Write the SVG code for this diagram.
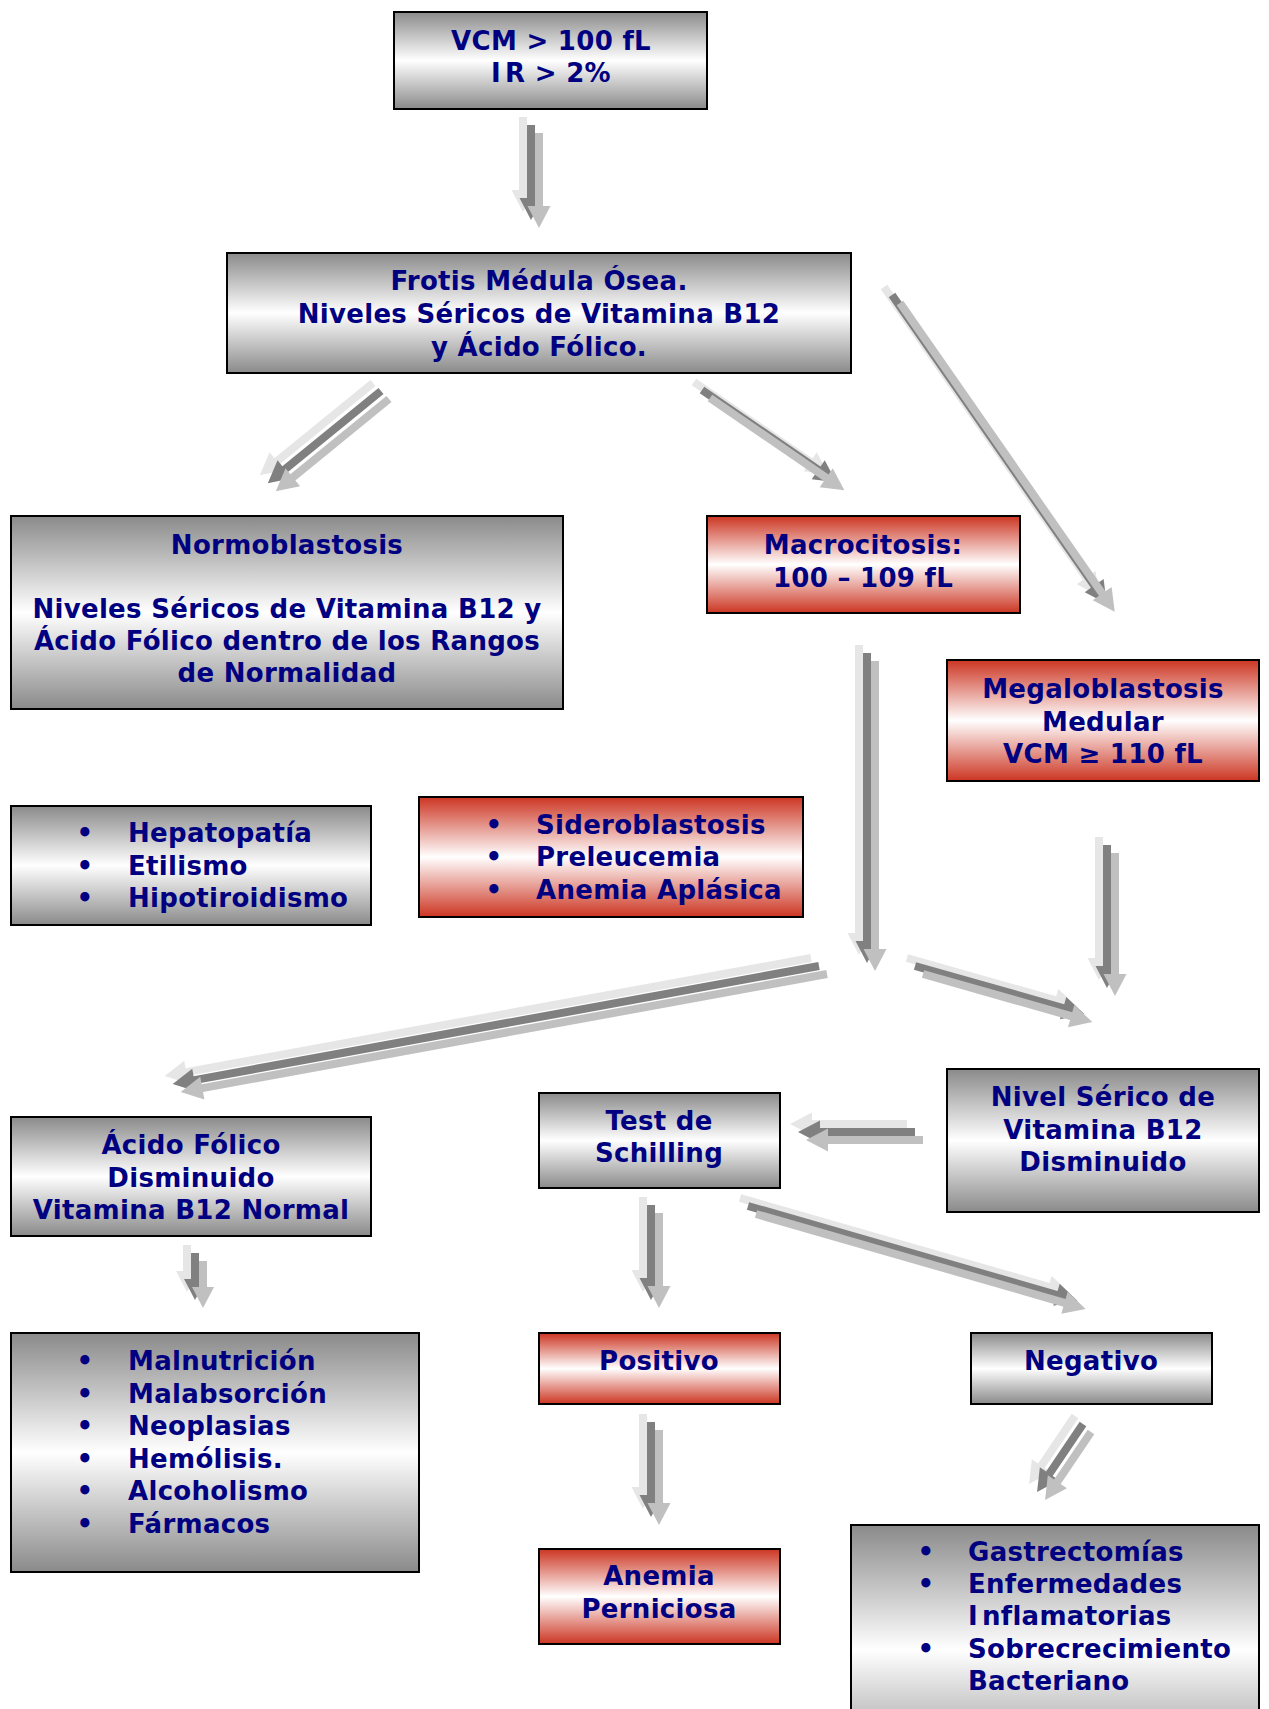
<svg xmlns="http://www.w3.org/2000/svg" xmlns:xlink="http://www.w3.org/1999/xlink" width="1269" height="1709" viewBox="0 0 1269 1709">
<defs>
<linearGradient id="gg" x1="0" y1="0" x2="0" y2="1">
<stop offset="0" stop-color="#8a8a8a"/>
<stop offset="0.5" stop-color="#ffffff"/>
<stop offset="1" stop-color="#8a8a8a"/>
</linearGradient>
<linearGradient id="rg" x1="0" y1="0" x2="0" y2="1">
<stop offset="0" stop-color="#cc3522"/>
<stop offset="0.5" stop-color="#ffffff"/>
<stop offset="1" stop-color="#cc3522"/>
</linearGradient>
<path id="p1" transform="translate(531,125) rotate(90)" d="M0,-4H73V-11.5L95,0L73,11.5V4H0Z"/>
<path id="p2" transform="translate(381,391) rotate(140.85)" d="M0,-4H124V-11.5L146,0L124,11.5V4H0Z"/>
<path id="p3" transform="translate(702,390) rotate(34.47)" d="M0,-4H141V-11.5L163,0L141,11.5V4H0Z"/>
<path id="p4" transform="translate(892,295) rotate(55.17)" d="M0,-4H354V-11.5L376,0L354,11.5V4H0Z"/>
<path id="p5" transform="translate(867,653) rotate(90)" d="M0,-4H288V-11.5L310,0L288,11.5V4H0Z"/>
<path id="p6" transform="translate(819,966) rotate(169.65)" d="M0,-4H635V-11.5L657,0L635,11.5V4H0Z"/>
<path id="p7" transform="translate(915,966) rotate(15.86)" d="M0,-4H154V-11.5L176,0L154,11.5V4H0Z"/>
<path id="p8" transform="translate(1107,845) rotate(90)" d="M0,-4H121V-11.5L143,0L121,11.5V4H0Z"/>
<path id="p9" transform="translate(915,1132) rotate(180)" d="M0,-4H95V-11.5L117,0L95,11.5V4H0Z"/>
<path id="p10" transform="translate(651,1205) rotate(90)" d="M0,-4H73V-11.5L95,0L73,11.5V4H0Z"/>
<path id="p11" transform="translate(748,1206) rotate(16.06)" d="M0,-4H321V-11.5L343,0L321,11.5V4H0Z"/>
<path id="p12" transform="translate(195,1253) rotate(90)" d="M0,-4H26V-11L47,0L26,11V4H0Z"/>
<path id="p13" transform="translate(651,1422) rotate(90)" d="M0,-4H73V-11.5L95,0L73,11.5V4H0Z"/>
<path id="p14" transform="translate(1083,1424) rotate(124.08)" d="M0,-4H60V-11.5L82,0L60,11.5V4H0Z"/>
</defs>
<style>
.g { fill: url(#gg); stroke: #000; stroke-width: 2; }
.r { fill: url(#rg); stroke: #000; stroke-width: 2; }
text { font-family: "DejaVu Sans", Verdana, sans-serif; font-weight: bold; font-size: 26px; letter-spacing: 0.3px; fill: #000080; }
.c { text-anchor: middle; }
.lt { fill: #e6e6e6; }
.dk { fill: #808080; }
.md { fill: #c0c0c0; }
</style>
<rect width="1269" height="1709" fill="#ffffff"/>

<g id="connectors">
<g id="a1"><use xlink:href="#p1" class="lt" transform="translate(-8,-8)"/><use xlink:href="#p1" class="dk"/><use xlink:href="#p1" class="md" transform="translate(8,8)"/></g>
<g id="a2"><use xlink:href="#p2" class="lt" transform="translate(-8,-8)"/><use xlink:href="#p2" class="dk"/><use xlink:href="#p2" class="md" transform="translate(8,8)"/></g>
<g id="a3"><use xlink:href="#p3" class="lt" transform="translate(-8,-8)"/><use xlink:href="#p3" class="dk"/><use xlink:href="#p3" class="md" transform="translate(8,8)"/></g>
<g id="a4"><use xlink:href="#p4" class="lt" transform="translate(-8,-8)"/><use xlink:href="#p4" class="dk"/><use xlink:href="#p4" class="md" transform="translate(8,8)"/></g>
<g id="a5"><use xlink:href="#p5" class="lt" transform="translate(-8,-8)"/><use xlink:href="#p5" class="dk"/><use xlink:href="#p5" class="md" transform="translate(8,8)"/></g>
<g id="a6"><use xlink:href="#p6" class="lt" transform="translate(-8,-8)"/><use xlink:href="#p6" class="dk"/><use xlink:href="#p6" class="md" transform="translate(8,8)"/></g>
<g id="a7"><use xlink:href="#p7" class="lt" transform="translate(-8,-8)"/><use xlink:href="#p7" class="dk"/><use xlink:href="#p7" class="md" transform="translate(8,8)"/></g>
<g id="a8"><use xlink:href="#p8" class="lt" transform="translate(-8,-8)"/><use xlink:href="#p8" class="dk"/><use xlink:href="#p8" class="md" transform="translate(8,8)"/></g>
<g id="a9"><use xlink:href="#p9" class="lt" transform="translate(-8,-8)"/><use xlink:href="#p9" class="dk"/><use xlink:href="#p9" class="md" transform="translate(8,8)"/></g>
<g id="a10"><use xlink:href="#p10" class="lt" transform="translate(-8,-8)"/><use xlink:href="#p10" class="dk"/><use xlink:href="#p10" class="md" transform="translate(8,8)"/></g>
<g id="a11"><use xlink:href="#p11" class="lt" transform="translate(-8,-8)"/><use xlink:href="#p11" class="dk"/><use xlink:href="#p11" class="md" transform="translate(8,8)"/></g>
<g id="a12"><use xlink:href="#p12" class="lt" transform="translate(-8,-8)"/><use xlink:href="#p12" class="dk"/><use xlink:href="#p12" class="md" transform="translate(8,8)"/></g>
<g id="a13"><use xlink:href="#p13" class="lt" transform="translate(-8,-8)"/><use xlink:href="#p13" class="dk"/><use xlink:href="#p13" class="md" transform="translate(8,8)"/></g>
<g id="a14"><use xlink:href="#p14" class="lt" transform="translate(-8,-8)"/><use xlink:href="#p14" class="dk"/><use xlink:href="#p14" class="md" transform="translate(8,8)"/></g>
</g>

<g id="n-vcm">
<rect class="g" x="394" y="12" width="313" height="97"/>
<text class="c" x="551" y="50">VCM &gt; 100 fL</text>
<text class="c" x="551" y="82"><tspan>I</tspan><tspan dx="4">R &gt; 2%</tspan></text>
</g>

<g id="n-frotis">
<rect class="g" x="227" y="253" width="624" height="120"/>
<text class="c" x="539" y="290">Frotis Médula Ósea.</text>
<text class="c" x="539" y="323">Niveles Séricos de Vitamina B12</text>
<text class="c" x="539" y="356">y Ácido Fólico.</text>
</g>

<g id="n-normo">
<rect class="g" x="11" y="516" width="552" height="193"/>
<text class="c" x="287" y="554">Normoblastosis</text>
<text class="c" x="287" y="618">Niveles Séricos de Vitamina B12 y</text>
<text class="c" x="287" y="650">Ácido Fólico dentro de los Rangos</text>
<text class="c" x="287" y="682">de Normalidad</text>
</g>

<g id="n-macro">
<rect class="r" x="707" y="516" width="313" height="97"/>
<text class="c" x="863" y="554">Macrocitosis:</text>
<text class="c" x="863" y="587">100 – 109 fL</text>
</g>

<g id="n-mega">
<rect class="r" x="947" y="660" width="312" height="121"/>
<text class="c" x="1103" y="698">Megaloblastosis</text>
<text class="c" x="1103" y="731">Medular</text>
<text class="c" x="1103" y="763">VCM ≥ 110 fL</text>
</g>

<g id="n-hepato">
<rect class="g" x="11" y="806" width="360" height="119"/>
<text class="c" x="85" y="842">•</text><text x="128" y="842">Hepatopatía</text>
<text class="c" x="85" y="875">•</text><text x="128" y="875">Etilismo</text>
<text class="c" x="85" y="907">•</text><text x="128" y="907">Hipotiroidismo</text>
</g>

<g id="n-sidero">
<rect class="r" x="419" y="797" width="384" height="120"/>
<text class="c" x="494" y="834">•</text><text x="536" y="834">Sideroblastosis</text>
<text class="c" x="494" y="866">•</text><text x="536" y="866">Preleucemia</text>
<text class="c" x="494" y="899">•</text><text x="536" y="899">Anemia Aplásica</text>
</g>

<g id="n-acido">
<rect class="g" x="11" y="1117" width="360" height="119"/>
<text class="c" x="191" y="1154">Ácido Fólico</text>
<text class="c" x="191" y="1187">Disminuido</text>
<text class="c" x="191" y="1219">Vitamina B12 Normal</text>
</g>

<g id="n-test">
<rect class="g" x="539" y="1093" width="241" height="95"/>
<text class="c" x="659" y="1130">Test de</text>
<text class="c" x="659" y="1162">Schilling</text>
</g>

<g id="n-nivel">
<rect class="g" x="947" y="1069" width="312" height="143"/>
<text class="c" x="1103" y="1106">Nivel Sérico de</text>
<text class="c" x="1103" y="1139">Vitamina B12</text>
<text class="c" x="1103" y="1171">Disminuido</text>
</g>

<g id="n-maln">
<rect class="g" x="11" y="1333" width="408" height="239"/>
<text class="c" x="85" y="1370">•</text><text x="128" y="1370">Malnutrición</text>
<text class="c" x="85" y="1403">•</text><text x="128" y="1403">Malabsorción</text>
<text class="c" x="85" y="1435">•</text><text x="128" y="1435">Neoplasias</text>
<text class="c" x="85" y="1468">•</text><text x="128" y="1468">Hemólisis.</text>
<text class="c" x="85" y="1500">•</text><text x="128" y="1500">Alcoholismo</text>
<text class="c" x="85" y="1533">•</text><text x="128" y="1533">Fármacos</text>
</g>

<g id="n-pos">
<rect class="r" x="539" y="1333" width="241" height="71"/>
<text class="c" x="659" y="1370">Positivo</text>
</g>

<g id="n-neg">
<rect class="g" x="971" y="1333" width="241" height="71"/>
<text class="c" x="1091" y="1370">Negativo</text>
</g>

<g id="n-anemia">
<rect class="r" x="539" y="1549" width="241" height="95"/>
<text class="c" x="659" y="1585">Anemia</text>
<text class="c" x="659" y="1618">Perniciosa</text>
</g>

<g id="n-gastro">
<rect class="g" x="851" y="1525" width="408" height="250"/>
<text class="c" x="926" y="1561">•</text><text x="968" y="1561">Gastrectomías</text>
<text class="c" x="926" y="1593">•</text><text x="968" y="1593">Enfermedades</text>
<text x="968" y="1625"><tspan>I</tspan><tspan dx="4">nflamatorias</tspan></text>
<text class="c" x="926" y="1658">•</text><text x="968" y="1658">Sobrecrecimiento</text>
<text x="968" y="1690">Bacteriano</text>
</g>
</svg>
